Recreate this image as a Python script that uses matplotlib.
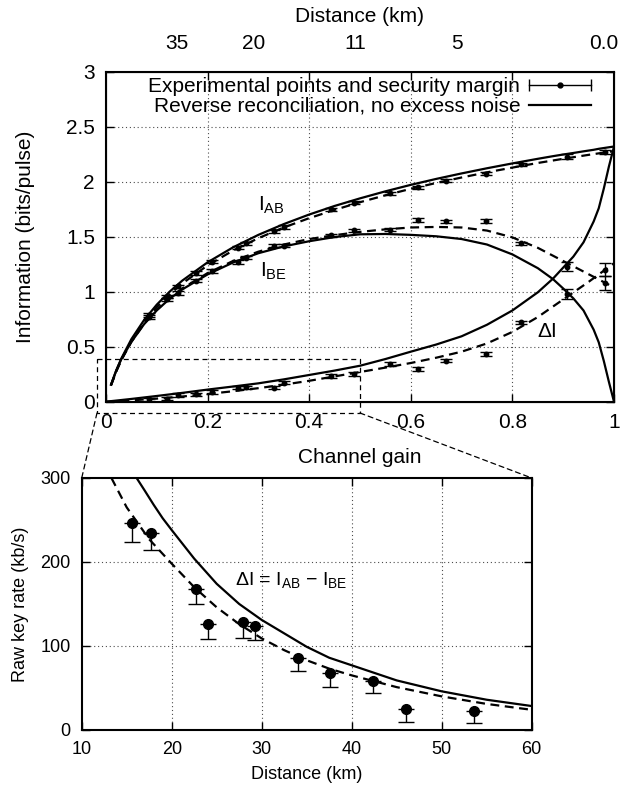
import matplotlib
matplotlib.use('Agg')
import matplotlib.pyplot as plt
from matplotlib.lines import Line2D
from matplotlib.legend_handler import HandlerBase
from matplotlib.patches import ConnectionPatch

plt.rcParams['font.family'] = ['Liberation Sans', 'DejaVu Sans']
plt.rcParams['mathtext.fontset'] = 'custom'
plt.rcParams['mathtext.rm'] = 'Liberation Sans'
plt.rcParams['mathtext.it'] = 'Liberation Sans:italic'

# ---- top panel: information vs channel gain ----
gain_th = [0.01, 0.02, 0.03, 0.05, 0.075, 0.1, 0.125, 0.15, 0.2, 0.25, 0.3, 0.35,
           0.4, 0.45, 0.5, 0.55, 0.6, 0.65, 0.7, 0.75, 0.8, 0.85, 0.88, 0.9, 0.92,
           0.94, 0.96, 0.97, 0.98, 0.99, 1.0]
iab_th = [0.155, 0.283, 0.391, 0.569, 0.743, 0.883, 1.0, 1.101, 1.268, 1.404, 1.518, 1.616,
          1.703, 1.781, 1.85, 1.914, 1.973, 2.027, 2.077, 2.124, 2.168, 2.21, 2.234, 2.249, 2.263,
          2.278, 2.292, 2.301, 2.308, 2.315, 2.322]
ibe_th = [0.155, 0.28, 0.385, 0.544, 0.705, 0.831, 0.935, 1.021, 1.158, 1.266, 1.351, 1.413,
          1.46, 1.498, 1.523, 1.526, 1.518, 1.505, 1.48, 1.43, 1.34, 1.215, 1.115, 1.03, 0.94,
          0.83, 0.655, 0.54, 0.37, 0.18, 0.0]
gain_di = [0.0, 0.05, 0.1, 0.15, 0.2, 0.25, 0.3, 0.35, 0.4, 0.45, 0.5, 0.55, 0.6, 0.65,
           0.7, 0.75, 0.8, 0.85, 0.88, 0.9, 0.92, 0.94, 0.96, 0.97, 0.98, 0.99, 1.0]
di_th = [0.0, 0.025, 0.052, 0.08, 0.11, 0.138, 0.167, 0.203, 0.243, 0.283, 0.327, 0.388,
         0.455, 0.52, 0.595, 0.70, 0.83, 0.995, 1.12, 1.22, 1.32, 1.45, 1.64, 1.76, 1.94,
         2.14, 2.32]

gain_fit = [0.01, 0.02, 0.03, 0.05, 0.075, 0.1, 0.125, 0.15, 0.2, 0.25, 0.3, 0.35, 0.4,
            0.45, 0.5, 0.55, 0.6, 0.65, 0.7, 0.75, 0.8, 0.85, 0.9, 0.95, 1.0]
iab_fit = [0.15, 0.275, 0.38, 0.555, 0.725, 0.86, 0.975, 1.075, 1.24, 1.375, 1.488, 1.585, 1.67,
           1.745, 1.815, 1.878, 1.937, 1.99, 2.04, 2.087, 2.13, 2.172, 2.21, 2.246, 2.28]
ibe_fit = [0.15, 0.273, 0.376, 0.545, 0.71, 0.835, 0.94, 1.03, 1.17, 1.28, 1.365, 1.43, 1.48,
           1.515, 1.545, 1.568, 1.585, 1.59, 1.585, 1.557, 1.495, 1.40, 1.28, 1.16, 1.04]
gain_dfit = [0.0, 0.05, 0.1, 0.15, 0.2, 0.25, 0.3, 0.35, 0.4, 0.45, 0.5, 0.55, 0.6, 0.65,
             0.7, 0.75, 0.8, 0.85, 0.9, 0.95, 1.0]
di_fit = [0.0, 0.012, 0.028, 0.047, 0.07, 0.095, 0.123, 0.155, 0.19, 0.23, 0.27, 0.31, 0.352,
          0.40, 0.455, 0.53, 0.635, 0.77, 0.93, 1.09, 1.26]

gain_pts = [0.085, 0.120, 0.142, 0.177, 0.208, 0.259, 0.276, 0.331, 0.351, 0.442, 0.488,
            0.560, 0.615, 0.669, 0.749, 0.817, 0.907, 0.982]
iab_pts = [0.79, 0.955, 1.05, 1.17, 1.275, 1.40, 1.44, 1.55, 1.59, 1.75, 1.81, 1.895, 1.95,
           2.01, 2.075, 2.16, 2.23, 2.27]
ibe_pts = [0.77, 0.93, 0.99, 1.10, 1.19, 1.27, 1.31, 1.42, 1.42, 1.515, 1.56, 1.565, 1.652,
           1.64, 1.645, 1.44, 1.23, 1.08]
di_pts = [0.023, 0.026, 0.060, 0.066, 0.088, 0.127, 0.131, 0.129, 0.172, 0.235, 0.252, 0.343,
          0.297, 0.373, 0.434, 0.722, 0.98, 1.20]
iab_err = [0.015] * 16 + [0.02, 0.02]
ibe_err = [0.015] * 16 + [0.042, 0.06]
di_err = [0.015] * 16 + [0.045, 0.06]

top_xticks = [0, 0.2, 0.4, 0.6, 0.8, 1]
top_xlabels = ['0', '0.2', '0.4', '0.6', '0.8', '1']
top_yticks = [0, 0.5, 1, 1.5, 2, 2.5, 3]
top_ylabels = ['0', '0.5', '1', '1.5', '2', '2.5', '3']
dist_label_pos = [0.14, 0.29, 0.49, 0.69, 0.98]
dist_labels = ['35', '20', '11', '5', '0.0']

# ---- bottom panel: raw key rate vs distance ----
dist_th = [16.1, 17, 18, 19, 20, 22.5, 25, 27.5, 30, 32.5, 35, 37.5, 40, 45, 50, 55, 60]
rate_th = [300, 285, 268, 252, 238, 204, 174, 150, 131, 115, 99, 86, 77, 59, 46, 36, 28.5]
dist_fit = [13.3, 15, 17.5, 20, 22.5, 25, 27.5, 30, 32.5, 35, 37.5, 40, 45, 50, 55, 60]
rate_fit = [300, 265, 227, 198, 170, 146, 126, 109, 95, 83, 73, 65, 51, 40, 31, 24]
dist_pts = [15.6, 17.7, 22.7, 24.0, 27.9, 29.3, 34.0, 37.6, 42.4, 46.0, 53.6]
rate_pts = [246, 235, 168, 126, 128, 124, 86, 67.5, 58.7, 25, 22.6]
rate_low = [22.5, 21, 18, 18, 18, 17, 16, 16.5, 14.3, 15, 14.6]


class HErrHandler(HandlerBase):
    def create_artists(self, legend, orig_handle, xdescent, ydescent, width, height,
                       fontsize, trans):
        y = height / 2 - ydescent
        x0, x1 = -xdescent, width - xdescent
        line = Line2D([x0, x1], [y, y], color='k', lw=1, transform=trans)
        caps = Line2D([x0, x1], [y, y], ls='none', marker='|', ms=9, mew=1,
                      color='k', transform=trans)
        dot = Line2D([(x0 + x1) / 2], [y], marker='o', ms=3.5, color='k', transform=trans)
        return [line, caps, dot]


fig = plt.figure(figsize=(6.32, 7.85), dpi=100)
grid_kw = dict(color='0.3', lw=0.8, ls=(0, (1, 2.5)))
dash = (0, (4, 2.5))

ax = fig.add_axes([0.1677, 0.4883, 0.8038, 0.42])
ax.set_xlim(0, 1)
ax.set_ylim(0, 3)
for g in top_xticks[1:-1]:
    ax.axvline(g, **grid_kw, zorder=0)
for v in top_yticks[1:-1]:
    ax.axhline(v, **grid_kw, zorder=0)

ax.plot(gain_th, iab_th, 'k-', lw=1.6)
ax.plot(gain_th, ibe_th, 'k-', lw=1.6)
ax.plot(gain_di, di_th, 'k-', lw=1.6)
ax.plot(gain_fit, iab_fit, 'k', ls=dash, lw=1.6)
ax.plot(gain_fit, ibe_fit, 'k', ls=dash, lw=1.6)
ax.plot(gain_dfit, di_fit, 'k', ls=dash, lw=1.6)
for vals, errs in [(iab_pts, iab_err), (ibe_pts, ibe_err), (di_pts, di_err)]:
    ax.errorbar(gain_pts, vals, yerr=errs, fmt='o', ms=3.2, color='k', ecolor='k',
                elinewidth=1, capsize=4, capthick=1)

ax.set_xticks(top_xticks, top_xlabels)
ax.set_yticks(top_yticks, top_ylabels)
ax.tick_params(direction='in', length=6, width=1, top=False, right=True,
               labelsize=15, pad=8)
for s in ax.spines.values():
    s.set_linewidth(1.5)
ax.set_xlabel('Channel gain', fontsize=15, labelpad=12)
ax.set_ylabel('Information (bits/pulse)', fontsize=15, labelpad=22)

ax.text(0.299, 1.79, r'I$_{\mathrm{AB}}$', fontsize=15, va='center')
ax.text(0.303, 1.19, r'I$_{\mathrm{BE}}$', fontsize=15, va='center')
ax.text(0.85, 0.64, '\u0394I', fontsize=15, va='center')

ax2 = ax.twiny()
ax2.set_xlim(0, 1)
ax2.set_xticks(dist_label_pos, dist_labels)
ax2.set_xticks(top_xticks[1:-1], minor=True)
ax2.tick_params(which='major', length=0, labelsize=15, pad=14)
ax2.tick_params(which='minor', direction='in', length=6, width=1)
ax2.set_xlabel('Distance (km)', fontsize=15, labelpad=8)

leg_handles = [Line2D([], []), Line2D([], [], color='k', lw=1.6)]
leg_labels = ['Experimental points and security margin',
              'Reverse reconciliation, no excess noise']
ax.legend(leg_handles, leg_labels, loc='upper right', bbox_to_anchor=(0.955, 0.985),
          frameon=False, markerfirst=False, fontsize=15, handlelength=3.0,
          handletextpad=0.4, labelspacing=0.05, borderpad=0, borderaxespad=0,
          handler_map={leg_handles[0]: HErrHandler()})

# zoom box
box_x = [-0.0177, 0.5, 0.5, -0.0177, -0.0177]
box_y = [0.384, 0.384, -0.103, -0.103, 0.384]
ax.plot(box_x, box_y, color='k', lw=0.9, ls=(0, (4, 3)), clip_on=False)

axb = fig.add_axes([0.1293, 0.0701, 0.712, 0.321])
axb.set_xlim(10, 60)
axb.set_ylim(0, 300)
for d in [20, 30, 40, 50]:
    axb.axvline(d, **grid_kw, zorder=0)
for r in [100, 200]:
    axb.axhline(r, **grid_kw, zorder=0)
axb.plot(dist_th, rate_th, 'k-', lw=1.6)
axb.plot(dist_fit, rate_fit, 'k', ls=dash, lw=1.6)
axb.errorbar(dist_pts, rate_pts, yerr=[rate_low, [0] * len(rate_low)], fmt='o', ms=7,
             color='k', ecolor='k', elinewidth=1, capsize=6, capthick=1)
axb.set_xticks([10, 20, 30, 40, 50, 60])
axb.set_yticks([0, 100, 200, 300])
axb.tick_params(direction='in', length=6, width=1, top=True, right=True,
                labelsize=13, pad=8)
for s in axb.spines.values():
    s.set_linewidth(1.5)
axb.set_xlabel('Distance (km)', fontsize=13, labelpad=6)
axb.set_ylabel('Raw key rate (kb/s)', fontsize=13, labelpad=8)
axb.text(27.0, 179, '\u0394I = I$_{\\mathrm{AB}}$ \u2212 I$_{\\mathrm{BE}}$', fontsize=14,
         va='center')

for xa, xb in [(box_x[3], 0), (box_x[2], 1)]:
    con = ConnectionPatch(xyA=(xa, box_y[2]), coordsA=ax.transData,
                          xyB=(xb, 1), coordsB=axb.transAxes,
                          color='k', lw=0.9, ls=(0, (4, 3)))
    fig.add_artist(con)

fig.savefig('out.png', dpi=100)
